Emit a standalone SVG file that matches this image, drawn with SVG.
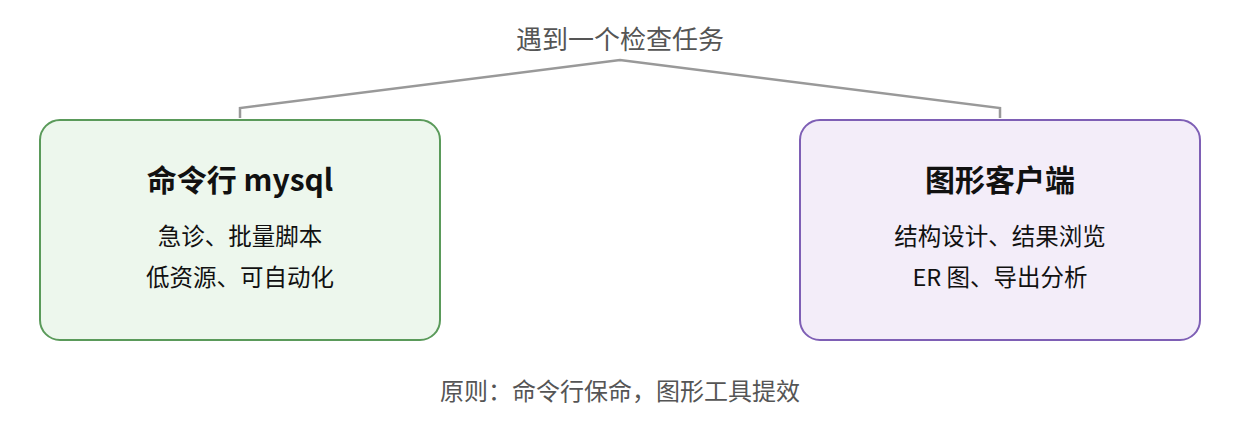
<svg xmlns="http://www.w3.org/2000/svg" width="1240" height="440" viewBox="0 0 1240 440">
<style>
text{font-family:"Noto Sans CJK SC","Noto Sans",sans-serif;text-anchor:middle}
.t{font-size:30px;font-weight:bold;fill:#111}
.s{font-size:23.5px;fill:#111}
.g{font-size:26px;fill:#555}
</style>
<rect width="1240" height="440" fill="#fff"/>
<text class="g" x="620" y="49">遇到一个检查任务</text>
<g id="connectors"><polyline points="240,118 240,108 620,60 1000,108 1000,118" fill="none" stroke="#999" stroke-width="2.5"/></g>
<g id="cli">
<rect x="40" y="120" width="400" height="220" rx="20" fill="#edf7ed" stroke="#5a9a5a" stroke-width="2"/>
<text class="t" x="240" y="191">命令行 mysql</text>
<text class="s" x="240" y="245">急诊、批量脚本</text>
<text class="s" x="240" y="286">低资源、可自动化</text>
</g>
<g id="gui">
<rect x="800" y="120" width="400" height="220" rx="20" fill="#f3edf9" stroke="#7e5fb5" stroke-width="2"/>
<text class="t" x="1000" y="191">图形客户端</text>
<text class="s" x="1000" y="245">结构设计、结果浏览</text>
<text class="s" x="1000" y="286">ER 图、导出分析</text>
</g>
<text class="g" x="620" y="400" style="font-size:24px">原则：命令行保命，图形工具提效</text>
</svg>
